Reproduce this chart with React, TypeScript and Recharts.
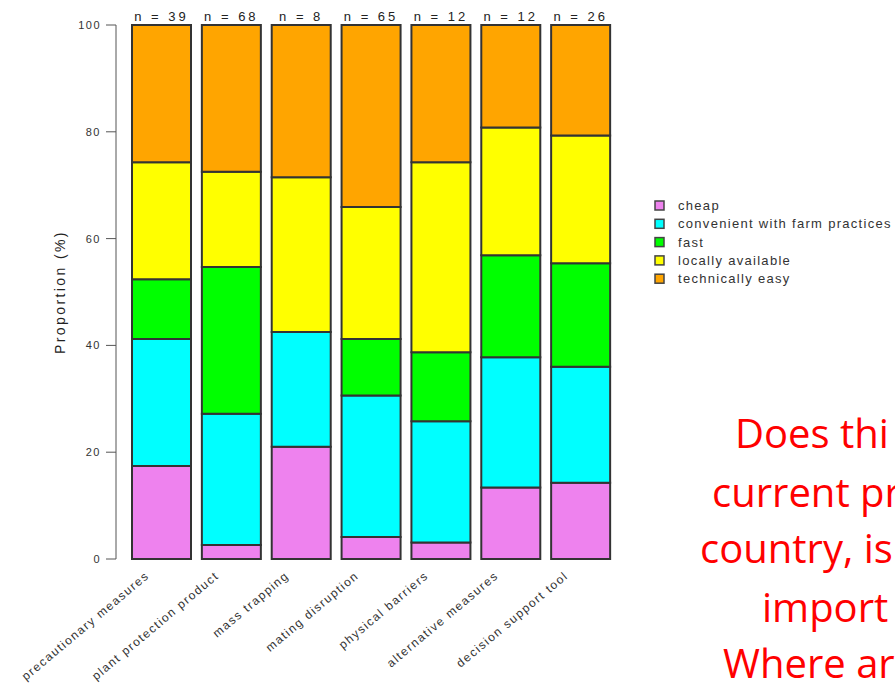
import React from "react";
import { BarChart, Bar, XAxis, YAxis, LabelList } from "recharts";

const categories = [
  "precautionary measures",
  "plant protection product",
  "mass trapping",
  "mating disruption",
  "physical barriers",
  "alternative measures",
  "decision support tool",
];
const nLabels = ["n = 39", "n = 68", "n = 8", "n = 65", "n = 12", "n = 12", "n = 26"];

const seriesNames = [
  "cheap",
  "convenient with farm practices",
  "fast",
  "locally available",
  "technically easy",
];
const seriesColors = ["#EE82EE", "#00FFFF", "#00FF00", "#FFFF00", "#FFA500"];

const cheap = [17.4, 2.6, 21.0, 4.1, 3.1, 13.4, 14.3];
const convenient = [23.8, 24.6, 21.5, 26.5, 22.7, 24.4, 21.7];
const fast = [11.2, 27.5, 0, 10.6, 12.9, 19.1, 19.4];
const locallyAvailable = [21.9, 17.8, 29.0, 24.7, 35.6, 23.9, 23.9];
const technicallyEasy = [25.7, 27.5, 28.5, 34.1, 25.7, 19.2, 20.7];

const yTicks = [0, 20, 40, 60, 80, 100];

const redLines = ["Does thi", "current pr", "country, is", "import", "Where ar"];
const redX = [735, 712, 700, 762, 723];
const redY = [448, 507, 563, 622, 678];

const seriesValues = [cheap, convenient, fast, locallyAvailable, technicallyEasy];
const keys = ["s0", "s1", "s2", "s3", "s4"];

const data = categories.map((name, i) => {
  const row: any = { name, n: nLabels[i] };
  keys.forEach((k, j) => {
    row[k] = seriesValues[j][i];
  });
  return row;
});

const FONT = "'Liberation Sans', Arial, Helvetica, sans-serif";

const XTick = (props: any) => {
  const { x, y, payload } = props;
  const ax = x - 12;
  const ay = y + 10;
  return (
    <text
      x={ax}
      y={ay}
      transform={`rotate(-40 ${ax} ${ay})`}
      textAnchor="end"
      fontSize={12}
      letterSpacing={1.5}
      fontFamily={FONT}
      fill="#333"
    >
      {payload.value}
    </text>
  );
};

const YTick = (props: any) => {
  const { x, y, payload } = props;
  return (
    <text
      x={x}
      y={y}
      dy={4}
      textAnchor="end"
      fontSize={11}
      letterSpacing={1.5}
      fontFamily={FONT}
      fill="#333"
    >
      {payload.value}
    </text>
  );
};

const NLabel = (props: any) => {
  const { x, y, width, value } = props;
  return (
    <text
      x={Number(x) + Number(width) / 2}
      y={Number(y) - 4}
      textAnchor="middle"
      fontSize={13}
      letterSpacing={3}
      fontFamily={FONT}
      fill="#222"
    >
      {value}
    </text>
  );
};

export default function App() {
  return (
    <div style={{ position: "relative", width: 895, height: 691, overflow: "hidden", background: "#fff" }}>
      <style>{"body{margin:0;overflow:hidden;}"}</style>
      <BarChart
        width={895}
        height={691}
        data={data}
        margin={{ top: 25, right: 279, bottom: 0, left: 0 }}
        barSize={59}
      >
        <XAxis
          dataKey="name"
          axisLine={false}
          tickLine={false}
          height={132}
          interval={0}
          padding={{ left: 11, right: 0 }}
          tick={<XTick />}
        />
        <YAxis
          width={116}
          domain={[0, 100]}
          ticks={yTicks}
          interval={0}
          tickSize={10}
          tickMargin={5}
          stroke="#555"
          tick={<YTick />}
        />
        {keys.map((k, j) => (
          <Bar
            key={k}
            dataKey={k}
            stackId="a"
            fill={seriesColors[j]}
            stroke="#333"
            strokeWidth={2}
            isAnimationActive={false}
          >
            {j === keys.length - 1 ? <LabelList dataKey="n" content={<NLabel />} /> : null}
          </Bar>
        ))}
      </BarChart>
      <svg
        width={895}
        height={691}
        style={{ position: "absolute", left: 0, top: 0, pointerEvents: "none" }}
      >
        <text
          x={65}
          y={292}
          transform="rotate(-90 65 292)"
          textAnchor="middle"
          fontSize={14}
          letterSpacing={2.4}
          fontFamily={FONT}
          fill="#222"
        >
          Proportion (%)
        </text>
        {seriesNames.map((s, i) => (
          <g key={s}>
            <rect
              x={655}
              y={201 + i * 18.3}
              width={9}
              height={9}
              fill={seriesColors[i]}
              stroke="#444"
              strokeWidth={1.5}
            />
            <text
              x={678}
              y={210 + i * 18.3}
              fontSize={13}
              letterSpacing={1.3}
              fontFamily={FONT}
              fill="#333"
            >
              {s}
            </text>
          </g>
        ))}
        {redLines.map((t, i) => (
          <text
            key={t}
            x={redX[i]}
            y={redY[i]}
            fontSize={40}
            fontFamily="'Open Sans', sans-serif"
            fill="#FF0000"
          >
            {t}
          </text>
        ))}
      </svg>
    </div>
  );
}
